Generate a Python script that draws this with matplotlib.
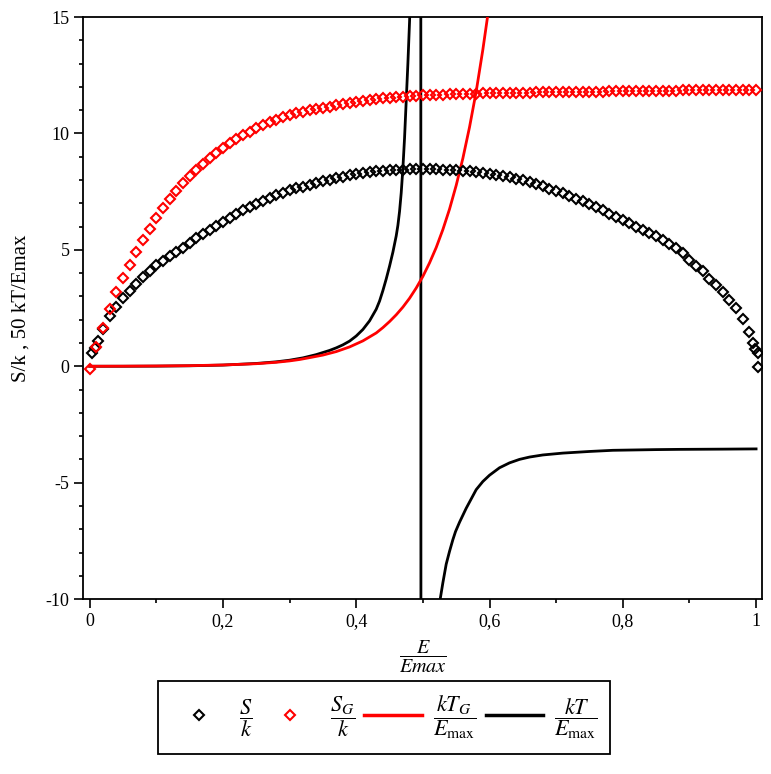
import numpy as np
import matplotlib
matplotlib.use("Agg")
import matplotlib.pyplot as plt
from matplotlib.ticker import MultipleLocator, FuncFormatter
from matplotlib.lines import Line2D

# S_G / k  (red diamonds), sampled on E/Emax = 0, 0.01, ..., 1
sg_x = np.linspace(0, 1, 101)
sg_y = [-0.10, 0.82, 1.65, 2.45, 3.18, 3.78, 4.36, 4.92, 5.42, 5.88,
        6.38, 6.78, 7.18, 7.52, 7.86, 8.16, 8.44, 8.70, 8.94, 9.16,
        9.37, 9.57, 9.76, 9.93, 10.08, 10.22, 10.36, 10.48, 10.59, 10.69,
        10.79, 10.87, 10.94, 11.00, 11.05, 11.10, 11.15, 11.21, 11.27, 11.32,
        11.37, 11.41, 11.45, 11.48, 11.51, 11.54, 11.56, 11.58, 11.60, 11.62,
        11.63, 11.65, 11.66, 11.67, 11.68, 11.69, 11.70, 11.70, 11.71, 11.72,
        11.72, 11.73, 11.73, 11.74, 11.74, 11.75, 11.75, 11.76, 11.76, 11.77,
        11.77, 11.78, 11.78, 11.79, 11.79, 11.80, 11.80, 11.80, 11.81, 11.81,
        11.82, 11.82, 11.82, 11.83, 11.83, 11.83, 11.84, 11.84, 11.84, 11.85,
        11.85, 11.85, 11.85, 11.86, 11.86, 11.86, 11.86, 11.87, 11.87, 11.87,
        11.87]

# S / k  (black diamonds)
s_x = [0.003, 0.008, 0.013] + list(np.linspace(0.02, 0.99, 98)) + [0.995, 0.999, 1.003, 1.003]
s_y = [0.55, 0.80, 1.08,
       1.60, 2.15, 2.55, 2.95, 3.25, 3.55, 3.85, 4.10, 4.33, 4.53,
       4.72, 4.90, 5.10, 5.30, 5.50, 5.68, 5.86, 6.03, 6.20, 6.36,
       6.52, 6.70, 6.84, 6.98, 7.10, 7.22, 7.34, 7.45, 7.55, 7.64,
       7.72, 7.80, 7.88, 7.95, 8.02, 8.08, 8.14, 8.20, 8.25, 8.29,
       8.33, 8.37, 8.40, 8.42, 8.44, 8.45, 8.46, 8.47, 8.47, 8.47,
       8.46, 8.45, 8.44, 8.42, 8.40, 8.38, 8.34, 8.31, 8.27, 8.22,
       8.17, 8.11, 8.05, 7.98, 7.90, 7.82, 7.73, 7.63, 7.53, 7.43,
       7.32, 7.20, 7.08, 6.96, 6.83, 6.70, 6.56, 6.42, 6.28, 6.14,
       6.00, 5.86, 5.72, 5.58, 5.43, 5.27, 5.10, 4.85, 4.55, 4.30,
       4.07, 3.75, 3.47, 3.17, 2.86, 2.50, 2.05, 1.45,
       1.00, 0.75, 0.55, -0.03]

# 50 kT_G / Emax  (red line)
tg_x = [0.0, 0.05, 0.1, 0.15, 0.2, 0.25, 0.28, 0.30, 0.315, 0.33, 0.35, 0.37,
        0.39, 0.41, 0.43, 0.44, 0.45, 0.46, 0.47, 0.48, 0.49, 0.50, 0.51,
        0.52, 0.53, 0.54, 0.55, 0.56, 0.57, 0.58, 0.59, 0.60]
tg_y = [0.0, 0.004, 0.012, 0.025, 0.055, 0.11, 0.17, 0.23, 0.29, 0.37, 0.48, 0.63,
        0.83, 1.09, 1.43, 1.66, 1.92, 2.21, 2.54, 2.92, 3.36, 3.86, 4.44,
        5.10, 5.87, 6.75, 7.77, 8.93, 10.27, 11.8, 13.6, 15.6]

# 50 kT / Emax  (black line, pole at E/Emax ~ 0.497)
t_x = [0.0, 0.05, 0.1, 0.15, 0.2, 0.25, 0.28, 0.30, 0.32, 0.34, 0.36, 0.37,
       0.38, 0.39, 0.40, 0.41, 0.42, 0.43, 0.435, 0.44, 0.445, 0.45, 0.455,
       0.46, 0.4625, 0.465, 0.4675, 0.47, 0.4725, 0.475, 0.4775, 0.48,
       0.485, 0.49, 0.4965,
       0.4975, 0.51, 0.52, 0.526, 0.53, 0.535, 0.54, 0.545, 0.549, 0.555,
       0.56, 0.565, 0.571, 0.58, 0.59, 0.60, 0.615, 0.63, 0.645, 0.66, 0.68,
       0.71, 0.75, 0.785, 0.85, 0.885, 0.95, 1.0]
t_y = [0.0, 0.0, 0.005, 0.02, 0.05, 0.12, 0.19, 0.26, 0.36, 0.5, 0.68, 0.79,
       0.92, 1.08, 1.3, 1.58, 1.95, 2.45, 2.8, 3.25, 3.75, 4.3, 4.9,
       5.6, 6.05, 6.65, 7.45, 8.5, 9.8, 11.4, 13.0, 14.8,
       19.0, 28.0, 80.0,
       -80.0, -25.0, -13.5, -10.0, -9.3, -8.5, -7.95, -7.45, -7.1, -6.7,
       -6.4, -6.1, -5.78, -5.3, -4.95, -4.68, -4.36, -4.15, -4.0, -3.9, -3.81,
       -3.73, -3.66, -3.61, -3.58, -3.57, -3.56, -3.55]

plt.rcParams['font.family'] = ['Liberation Serif', 'DejaVu Serif']
plt.rcParams['mathtext.fontset'] = 'stix'

fig = plt.figure(figsize=(7.71, 7.74), dpi=100)
ax = fig.add_axes([0.108, 0.226, 0.880, 0.752])

red = '#ff0000'
ax.plot(t_x, t_y, color='black', lw=2.0, zorder=3)
ax.plot(tg_x, tg_y, color=red, lw=2.0, zorder=3)
ax.plot(s_x, s_y, linestyle='none', marker='D', ms=4.8, mfc='none',
        mec='black', mew=1.5, zorder=4)
ax.plot(sg_x, sg_y, linestyle='none', marker='D', ms=4.8, mfc='none',
        mec=red, mew=1.5, zorder=4)

ax.set_xlim(-0.0096, 1.0085)
ax.set_ylim(-10, 15)

ax.xaxis.set_major_locator(MultipleLocator(0.2))
ax.xaxis.set_minor_locator(MultipleLocator(0.1))
ax.yaxis.set_major_locator(MultipleLocator(5))
ax.yaxis.set_minor_locator(MultipleLocator(1))


def comma_fmt(v, pos):
    s = '%g' % round(v, 3)
    return s.replace('.', ',')


ax.xaxis.set_major_formatter(FuncFormatter(comma_fmt))
ax.yaxis.set_major_formatter(FuncFormatter(lambda v, pos: '%d' % v))
ax.tick_params(which='major', direction='out', length=6.5, width=1.2, labelsize=13)
ax.tick_params(which='minor', direction='out', length=3, width=1.2)
for sp in ax.spines.values():
    sp.set_linewidth(1.3)

ax.set_ylabel('S/k , 50 kT/Emax', fontsize=15)
ax.yaxis.set_label_coords(-0.078, 0.5)
ax.set_xlabel(r'$\dfrac{E}{Emax}$', fontsize=14.5, labelpad=6)

handles = [
    Line2D([], [], linestyle='none', marker='D', ms=4.8, mfc='none', mec='black', mew=1.5),
    Line2D([], [], linestyle='none', marker='D', ms=4.8, mfc='none', mec=red, mew=1.5),
    Line2D([], [], color=red, lw=2.5),
    Line2D([], [], color='black', lw=2.5),
]
labels = [r'$\dfrac{S}{k}$', r'$\dfrac{S_G}{k}$',
          r'$\dfrac{kT_G}{E_{\max}}$', r'$\dfrac{kT}{E_{\max}}$']
leg = fig.legend(handles, labels, loc='upper center', bbox_to_anchor=(0.498, 0.12),
                 ncol=4, fontsize=16, handlelength=2.6, handletextpad=0.5,
                 columnspacing=0.4, borderpad=0.55, borderaxespad=0,
                 fancybox=False, framealpha=1)
leg.get_frame().set_edgecolor('black')
leg.get_frame().set_linewidth(1.3)

fig.savefig('out.png', dpi=100)
